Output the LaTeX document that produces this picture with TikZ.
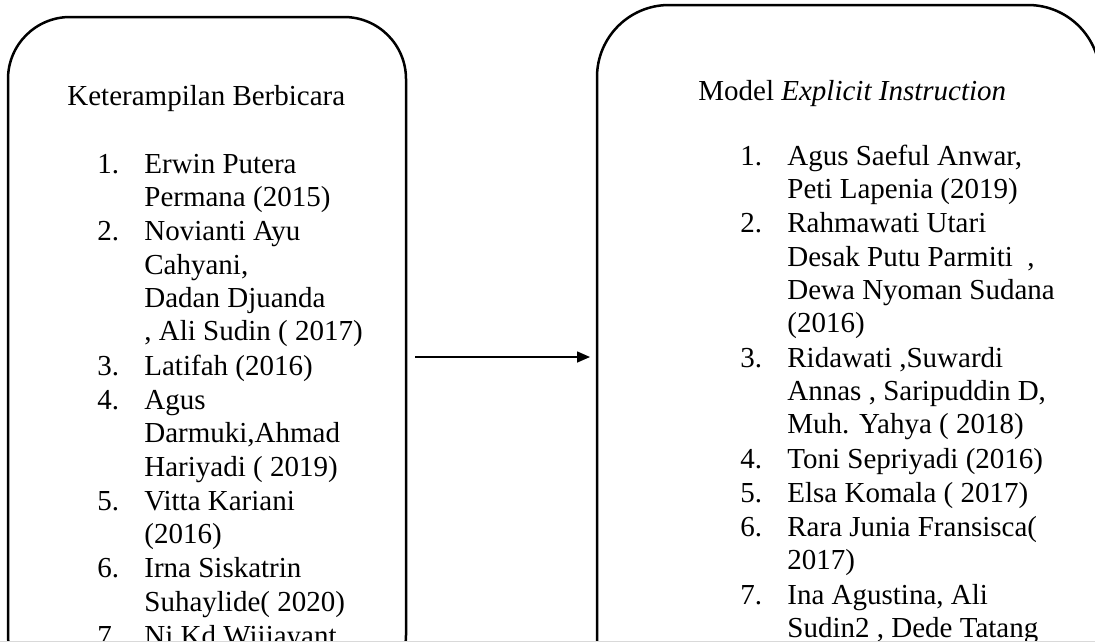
\documentclass[tikz,border=0pt]{standalone}
\usepackage{fontspec}
\setmainfont{Liberation Serif}
\usepackage{array}
\usetikzlibrary{positioning, arrows.meta}

% one numbered entry: number column, then the text lines
\newcommand{\entrytab}[2]{%
  \begin{tabular}[t]{@{}p{23.5pt}@{}p{140pt}@{}}#1 & #2\end{tabular}}

\begin{document}
\begin{tikzpicture}[x=0.5pt, y=-0.5pt, node distance=0mm]
      \tikzset{
        panel/.style={
          draw=black, line width=1.25pt, rounded corners=31pt,
          inner sep=0pt, outer sep=0pt, anchor=north west
        },
        heading/.style={
          anchor=base west, inner sep=0pt,
          font=\fontsize{14.5pt}{16.7pt}\selectfont
        },
        entry/.style={
          inner sep=0pt, font=\fontsize{14.5pt}{16.7pt}\selectfont
        },
        link/.style={
          line width=0.8pt, -{Triangle[length=6.5pt, width=5.5pt]},
          shorten <=4.5pt, shorten >=3.5pt
        }
      }
      \useasboundingbox (0,0) rectangle (1095,643);
      \begin{scope}
      \clip (0,0) rectangle (1095,641);
      % left panel
      \node[panel, minimum width=199pt, minimum height=340pt] (kb) at (8,17) {};
      \node[heading] (b0) at (67,105) {Keterampilan Berbicara};
      \node[entry, anchor=base west] (b1) at (97,173) {\entrytab{1.}{Erwin Putera\\ & Permana (2015)}};
      \node[entry, below=of b1] (b2) {\entrytab{2.}{Novianti Ayu\\ & Cahyani,\\ & Dadan Djuanda\\ & , Ali Sudin ( 2017)}};
      \node[entry, below=of b2] (b3) {\entrytab{3.}{Latifah (2016)}};
      \node[entry, below=of b3] (b4) {\entrytab{4.}{Agus\\ & Darmuki,Ahmad\\ & Hariyadi ( 2019)}};
      \node[entry, below=of b4] (b5) {\entrytab{5.}{Vitta Kariani\\ & (2016)}};
      \node[entry, below=of b5] (b6) {\entrytab{6.}{Irna Siskatrin\\ & Suhaylide( 2020)}};
      \node[entry, below=of b6] (b7) {\entrytab{7.}{Ni Kd Wiijayant}};
      % right panel
      \node[panel, rounded corners=36pt, minimum width=251.5pt, minimum height=352pt] (me) at (597,5) {};
      \node[heading] (m0) at (698,100) {Model \textit{Explicit Instruction}};
      \node[entry, anchor=base west] (m1) at (740,165) {\entrytab{1.}{Agus Saeful Anwar,\\ & Peti Lapenia (2019)}};
      \node[entry, below=of m1] (m2) {\entrytab{2.}{Rahmawati Utari\\ & Desak Putu Parmiti\ \ ,\\ & Dewa Nyoman Sudana\\ & (2016)}};
      \node[entry, below=of m2] (m3) {\entrytab{3.}{Ridawati ,Suwardi\\ & Annas , Saripuddin D,\\ & Muh. Yahya ( 2018)}};
      \node[entry, below=of m3] (m4) {\entrytab{4.}{Toni Sepriyadi (2016)}};
      \node[entry, below=of m4] (m5) {\entrytab{5.}{Elsa Komala ( 2017)}};
      \node[entry, below=of m5] (m6) {\entrytab{6.}{Rara Junia Fransisca(\\ & 2017)}};
      \node[entry, below=of m6] (m7) {\entrytab{7.}{Ina Agustina, Ali\\ & Sudin2 , Dede Tatang}};
      \draw[link] (kb.east) -- (me.west);
      \end{scope}
      \draw[gray!30, line width=0.5pt] (0,641.5) -- (1095,641.5);
    \end{tikzpicture}
\end{document}
